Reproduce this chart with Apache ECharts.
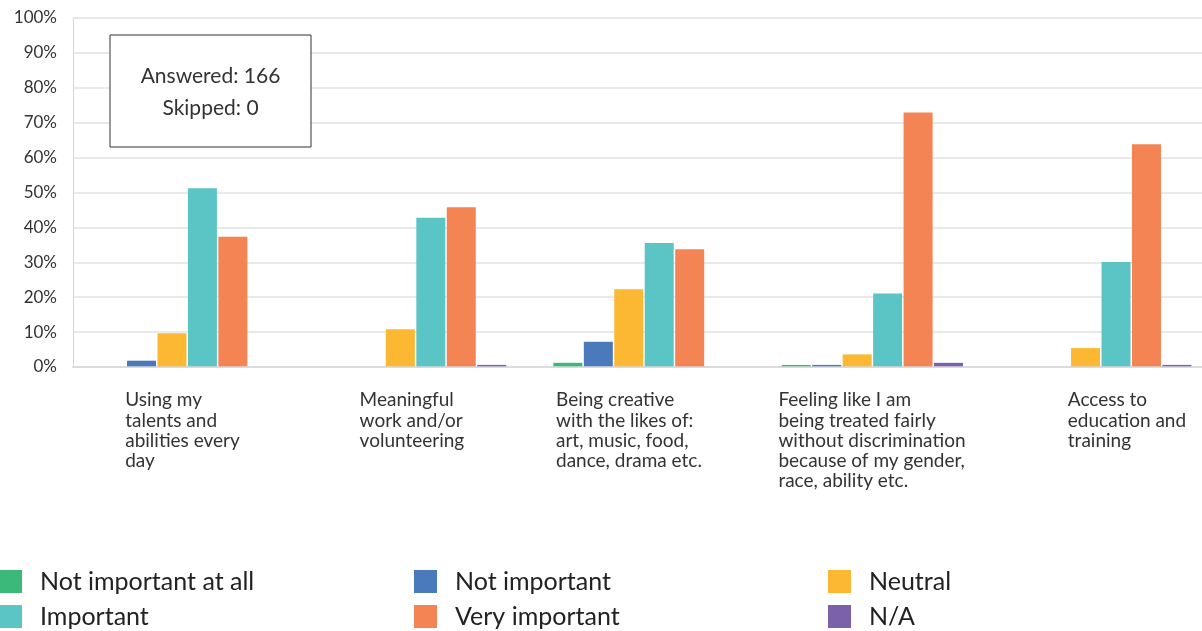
<!DOCTYPE html>
<html>
<head>
<meta charset="utf-8">
<script src="https://cdn.jsdelivr.net/npm/echarts@6/dist/echarts.min.js"></script>
<style>
  html, body { margin: 0; padding: 0; background: #fff; }
  #chart { width: 1202px; height: 631px; }
</style>
</head>
<body>
<div id="chart"></div>
<script>
// Survey question categories (wrapped as shown under each group)
const categories = [
  'Using my\ntalents and\nabilities every\nday',
  'Meaningful\nwork and/or\nvolunteering',
  'Being creative\nwith the likes of:\nart, music, food,\ndance, drama etc.',
  'Feeling like I am\nbeing treated fairly\nwithout discrimination\nbecause of my gender,\nrace, ability etc.',
  'Access to\neducation and\ntraining'
];

// Share of respondents (%) per answer option
const notImportantAtAll = [0, 0, 1.20, 0.60, 0];
const notImportant      = [1.81, 0, 7.23, 0.60, 0];
const neutral           = [9.64, 10.84, 22.29, 3.61, 5.42];
const important         = [51.20, 42.77, 35.54, 21.08, 30.12];
const veryImportant     = [37.35, 45.78, 33.73, 72.89, 63.86];
const notApplicable     = [0, 0.60, 0, 1.20, 0.60];

const seriesNames = ['Not important at all', 'Not important', 'Neutral', 'Important', 'Very important', 'N/A'];
const seriesData  = [notImportantAtAll, notImportant, neutral, important, veryImportant, notApplicable];
const colors = ['#3bb97b', '#4a79bc', '#fdb833', '#5bc5c5', '#f58455', '#7a61a9'];

const answered = 166;
const skipped = 0;

const FONT = 'Lato, "Open Sans", sans-serif';
const TEXT = '#333333';

// Horizontal nudge of each category caption relative to its group centre
const captionShift = [-62, -56, -88, -94, -33];

// Legend grid: three columns, two rows
const legendCols = [-1, 414, 828];
const legendRows = [569, 604];

const chart = echarts.init(document.getElementById('chart'), null, { renderer: 'canvas' });

const legends = seriesNames.map((name, i) => ({
  data: [name],
  left: legendCols[i % 3],
  top: legendRows[Math.floor(i / 3)],
  orient: 'horizontal',
  icon: 'rect',
  itemWidth: 23,
  itemHeight: 23,
  selectedMode: false,
  padding: 0,
  textStyle: {
    fontFamily: FONT,
    fontSize: 25,
    color: '#222222',
    padding: [0, 0, 0, 13]
  }
}));

const series = seriesNames.map((name, i) => ({
  name,
  type: 'bar',
  data: seriesData[i],
  barWidth: 29,
  barGap: '5%',
  itemStyle: { color: colors[i] },
  emphasis: { disabled: true }
}));

chart.setOption({
  animation: false,
  color: colors,
  grid: {
    left: 73, top: 18, width: 1142, height: 349,
    containLabel: false,
    outerBoundsMode: 'none'
  },
  legend: legends,
  xAxis: {
    type: 'category',
    data: categories,
    z: 5,
    axisLine: { show: true, lineStyle: { color: 'rgba(215,215,215,0.75)', width: 2 } },
    axisTick: { show: false },
    axisLabel: { show: false }
  },
  yAxis: {
    type: 'value',
    min: 0,
    max: 100,
    interval: 10,
    axisLine: { show: true, lineStyle: { color: '#d6d6d6', width: 1 } },
    axisTick: { show: false },
    axisLabel: {
      formatter: '{value}%',
      fontFamily: FONT,
      fontSize: 17,
      color: TEXT,
      margin: 16
    },
    splitLine: { lineStyle: { color: '#e2e2e2', width: 1.5 } }
  },
  series
});

// Category captions, placed under each group and left-aligned line by line
const captions = categories.map((text, i) => {
  const cx = chart.convertToPixel({ xAxisIndex: 0 }, i);
  return {
    type: 'text',
    x: cx + captionShift[i],
    y: 390,
    style: {
      text,
      fontFamily: FONT,
      fontSize: 19,
      lineHeight: 20.3,
      fill: TEXT,
      align: 'left',
      verticalAlign: 'top'
    }
  };
});

chart.setOption({
  graphic: [
    ...captions,
    {
      type: 'rect',
      x: 110,
      y: 35,
      shape: { width: 201, height: 112 },
      style: { fill: '#ffffff', stroke: '#333333', lineWidth: 1 },
      z: 10
    },
    {
      type: 'text',
      x: 210.5,
      y: 60,
      z: 11,
      style: {
        text: 'Answered: ' + answered + '\nSkipped: ' + skipped,
        fontFamily: FONT,
        fontSize: 21,
        lineHeight: 32,
        fill: TEXT,
        align: 'center',
        verticalAlign: 'top'
      }
    }
  ]
});
</script>
</body>
</html>
